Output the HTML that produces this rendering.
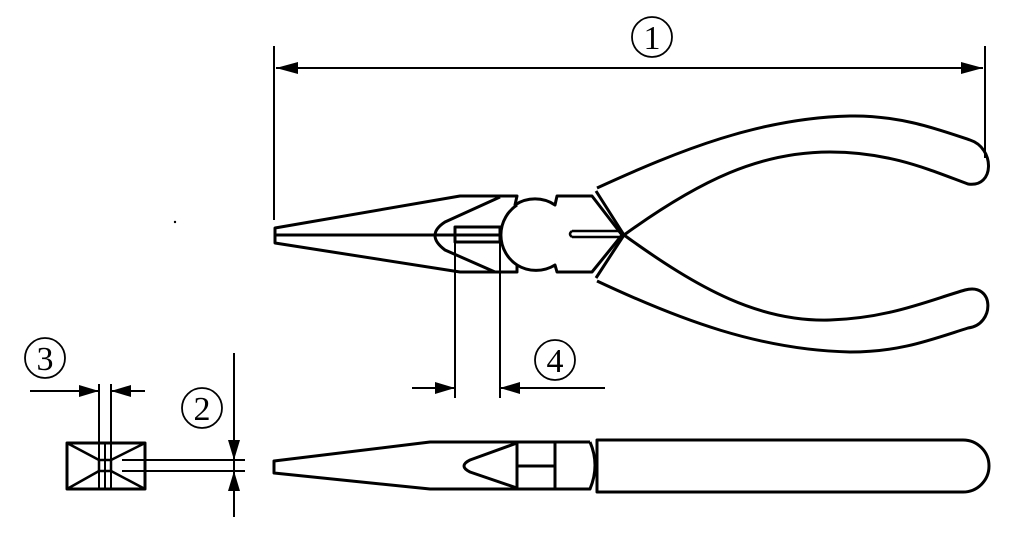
<!DOCTYPE html>
<html><head><style>body{margin:0;background:#fff}svg{display:block}text{font-family:"Liberation Serif",serif;font-size:34px}</style></head>
<body>
<svg width="1021" height="540" viewBox="0 0 1021 540" fill="none" stroke="#000" stroke-width="3" stroke-linejoin="round">
<!-- dimension 1 -->
<line x1="274" y1="46" x2="274" y2="220" stroke-width="2"/>
<line x1="985" y1="46" x2="985" y2="158" stroke-width="2"/>
<line x1="276" y1="68" x2="983" y2="68" stroke-width="2"/>
<path d="M276 68 l22 -6 v12 z M983 68 l-22 -6 v12 z" fill="#000" stroke="none"/>
<circle cx="652" cy="37" r="20" stroke-width="1.8"/>
<text x="652" y="49" text-anchor="middle" fill="#000" stroke="none">1</text>
<circle cx="175" cy="222" r="1.2" fill="#000" stroke="none"/>
<!-- top view jaws -->
<path d="M500 196 H460 L275 228 V243 L460 272 H500"/>
<line x1="275" y1="235" x2="455" y2="235"/>
<path d="M500 197 L445 222 Q425 235 445 250 L495 272"/>
<rect x="455" y="227" width="45" height="15"/>
<line x1="455" y1="235" x2="500" y2="235"/>
<path d="M500 196 H517 L515 205 A36 36 0 0 1 555 205 L557 196 H592 L622 235 L592 272 H557 L555 265 A36 36 0 0 1 517 265 L517 272 H500"/>
<path d="M517 205 A36 36 0 0 0 517 265" />
<path d="M572 231 H620 M572 237 H620 M572 231 Q568 234 572 237" stroke-width="2.5"/>
<path d="M596 191 L624 235 L596 278" />
<!-- handles -->
<path d="M597 188 C680 150 760 118 850 116 C900 115 940 130 970 140 C995 148 995 188 968 184 C930 170 890 152 830 152 C760 152 700 180 624 235"/>
<path d="M624 235 C700 290 760 322 830 320 C890 318 930 300 965 290 C995 282 995 325 968 328 C930 340 900 352 850 352 C760 350 680 320 597 281"/>
<!-- dimension 4 -->
<line x1="455" y1="242" x2="455" y2="398" stroke-width="2"/>
<line x1="500" y1="242" x2="500" y2="398" stroke-width="2"/>
<line x1="412" y1="388" x2="455" y2="388" stroke-width="2"/>
<line x1="500" y1="388" x2="605" y2="388" stroke-width="2"/>
<path d="M455 388 l-20 -6 v12 z M500 388 l20 -6 v12 z" fill="#000" stroke="none"/>
<circle cx="555" cy="360" r="20" stroke-width="1.8"/>
<text x="555" y="372" text-anchor="middle" fill="#000" stroke="none">4</text>
<!-- side view -->
<path d="M590 442 H430 L274 461 V473 L430 489 H590 Q600 465 590 442"/>
<path d="M517 443 L470 460 Q458 466 470 472 L517 488"/>
<line x1="517" y1="443" x2="517" y2="488"/>
<line x1="555" y1="443" x2="555" y2="488"/>
<line x1="517" y1="466" x2="555" y2="466"/>
<path d="M597 440 H963 A26 26 0 0 1 963 492 H597 Z"/>
<!-- left section -->
<rect x="67" y="443" width="78" height="46"/>
<path d="M67 443 L99 460 M67 489 L99 471 M145 443 L111 460 M145 489 L111 471" stroke-width="2.5"/>
<rect x="99" y="460" width="12" height="11" stroke-width="2.5"/>
<line x1="99" y1="384" x2="99" y2="489" stroke-width="2"/>
<line x1="111" y1="384" x2="111" y2="489" stroke-width="2"/>
<line x1="105" y1="443" x2="105" y2="489" stroke-width="2"/>
<line x1="30" y1="391" x2="99" y2="391" stroke-width="2"/>
<line x1="111" y1="391" x2="145" y2="391" stroke-width="2"/>
<path d="M99 391 l-20 -6 v12 z M111 391 l20 -6 v12 z" fill="#000" stroke="none"/>
<circle cx="45" cy="358" r="20" stroke-width="1.8"/>
<text x="45" y="370" text-anchor="middle" fill="#000" stroke="none">3</text>
<!-- dimension 2 -->
<line x1="234" y1="353" x2="234" y2="517" stroke-width="2"/>
<line x1="122" y1="460" x2="245" y2="460" stroke-width="2"/>
<line x1="122" y1="471" x2="245" y2="471" stroke-width="2"/>
<path d="M234 460 l-6 -20 h12 z M234 471 l-6 20 h12 z" fill="#000" stroke="none"/>
<circle cx="202" cy="408" r="20" stroke-width="1.8"/>
<text x="202" y="420" text-anchor="middle" fill="#000" stroke="none">2</text>
</svg>
</body></html>
